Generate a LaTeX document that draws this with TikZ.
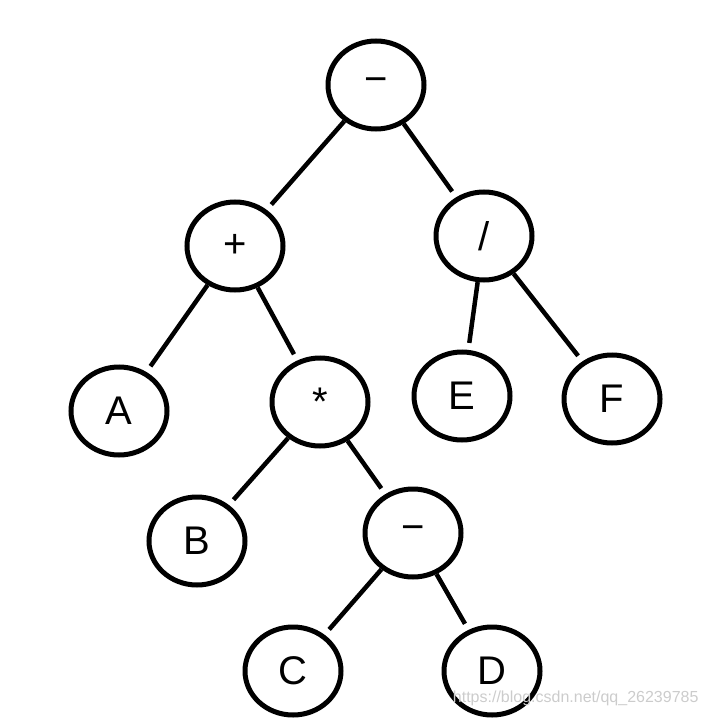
\documentclass[tikz,border=0pt]{standalone}
\usepackage{fontspec}
\setmainfont{Liberation Sans}
\usetikzlibrary{shapes.geometric}
\tikzset{
    opnode/.style={draw,ellipse,line width=5pt,minimum width=96pt,minimum height=88pt,inner sep=0pt},
    branch/.style={line width=4.5pt,shorten >=7pt}
}
\begin{document}
\begin{tikzpicture}[x=1pt,y=-1pt,font=\fontsize{40}{40}\selectfont]
    \useasboundingbox (0,0) rectangle (710,719);

    \node[opnode] (minus) at (376,85) {−};
    \node[opnode] (plus) at (235,246) {+};
    \node[opnode] (div) at (484,236) {/};
    \node[opnode] (A) at (119,411) {A};
    \node[opnode] (times) at (320,402) {*};
    \node[opnode] (E) at (462,396) {E};
    \node[opnode] (F) at (612,399) {F};
    \node[opnode] (B) at (197,541) {B};
    \node[opnode] (sub) at (413,533) {−};
    \node[opnode] (C) at (293,671) {C};
    \node[opnode] (D) at (492,671) {D};

    \draw[branch] (minus) -- (plus);
    \draw[branch] (minus) -- (div);
    \draw[branch] (plus) -- (A);
    \draw[branch] (plus) -- (times);
    \draw[branch] (div) -- (E);
    \draw[branch] (div) -- (F);
    \draw[branch] (times) -- (B);
    \draw[branch] (times) -- (sub);
    \draw[branch] (sub) -- (C);
    \draw[branch] (sub) -- (D);

    \node[gray!40,font=\fontsize{16}{16}\selectfont,anchor=east] (mark) at (702,698) {https://blog.csdn.net/qq\_26239785};
\end{tikzpicture}
\end{document}
